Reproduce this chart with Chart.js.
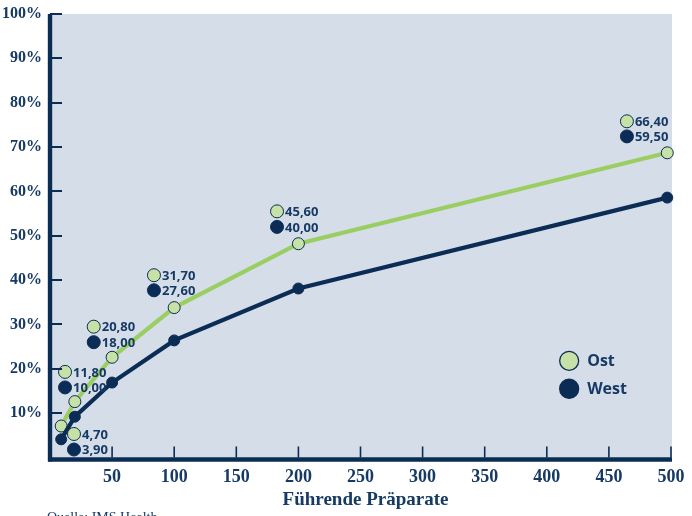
<!DOCTYPE html>
<html>
<head>
<meta charset="utf-8">
<script src="https://cdn.jsdelivr.net/npm/chart.js@4.4.1/dist/chart.umd.min.js"></script>
<style>
  html, body { margin: 0; padding: 0; background: #ffffff; }
  #wrap { width: 692px; height: 516px; position: relative; }
</style>
</head>
<body>
<div id="wrap"><canvas id="chart" width="692" height="516"></canvas></div>
<script>
// Number of leading products (x) and cumulative market share in percent (y)
const ranks = [9, 20, 50, 100, 200, 497];
const ostShare = [7.1, 12.6, 22.6, 33.8, 48.2, 68.7];
const westShare = [4.1, 9.2, 16.9, 26.4, 38.1, 58.6];

// Figures printed in the callout key
const calloutOst = [4.70, 11.80, 20.80, 31.70, 45.60, 66.40];
const calloutWest = [3.90, 10.00, 18.00, 27.60, 40.00, 59.50];

// Tick values
const xTicks = [50, 100, 150, 200, 250, 300, 350, 400, 450, 500];
const yTicks = [10, 20, 30, 40, 50, 60, 70, 80, 90, 100];

const seriesNames = ['Ost', 'West'];
const axisTitle = 'Führende Präparate';
const sourceNote = 'Quelle: IMS Health';

// Where each callout pair sits, in axis units
const calloutAnchors = {
  x: [19.3, 12.1, 35.2, 83.7, 182.8, 464.5],
  yOst: [5.3, 19.3, 29.5, 41.1, 55.5, 75.8],
  yWest: [1.8, 15.8, 26.0, 37.7, 52.0, 72.4]
};

const NAVY = '#0b2c54';
const TEXT = '#173a64';
const GREEN = '#9bce62';
const LIGHT = '#c7e2a6';
const PLOT_BG = '#d5dde9';
const SERIF = '"Liberation Serif", "DejaVu Serif", serif';
const SANS = '"Open Sans", "Noto Sans", sans-serif';

const fmt = v => v.toFixed(2).replace('.', ',');

const ostLine = ranks.map((r, i) => ({ x: r, y: ostShare[i] }));
const westLine = ranks.map((r, i) => ({ x: r, y: westShare[i] }));
const ostCallouts = calloutOst.map((v, i) => ({ x: calloutAnchors.x[i], y: calloutAnchors.yOst[i], v }));
const westCallouts = calloutWest.map((v, i) => ({ x: calloutAnchors.x[i], y: calloutAnchors.yWest[i], v }));

const frame = {
  id: 'frame',
  beforeDatasetsDraw(chart) {
    const { ctx, chartArea: a } = chart;
    ctx.save();
    ctx.fillStyle = PLOT_BG;
    ctx.fillRect(a.left, a.top, a.right - a.left + 1, a.bottom - a.top + 2);
    ctx.restore();
  },
  afterDatasetsDraw(chart) {
    const { ctx, chartArea: a, scales } = chart;
    const xs = scales.x, ys = scales.y;
    ctx.save();
    // inward tick marks
    ctx.strokeStyle = NAVY;
    ctx.lineWidth = 2;
    yTicks.forEach(t => {
      const py = Math.round(ys.getPixelForValue(t));
      ctx.beginPath(); ctx.moveTo(a.left, py); ctx.lineTo(a.left + 12, py); ctx.stroke();
    });
    ctx.lineWidth = 1.6;
    xTicks.forEach(t => {
      const px = xs.getPixelForValue(t);
      ctx.beginPath(); ctx.moveTo(px, a.bottom); ctx.lineTo(px, a.bottom - 11); ctx.stroke();
    });
    // axis lines
    ctx.lineWidth = 4.4;
    ctx.beginPath(); ctx.moveTo(a.left, a.top); ctx.lineTo(a.left, a.bottom + 4); ctx.stroke();
    ctx.beginPath(); ctx.moveTo(a.left - 2, a.bottom + 2); ctx.lineTo(a.right + 1, a.bottom + 2); ctx.stroke();

    // callout figures
    ctx.fillStyle = TEXT;
    ctx.font = '700 13px ' + SANS;
    ctx.textAlign = 'left';
    ctx.textBaseline = 'middle';
    [ostCallouts, westCallouts].forEach(list => {
      list.forEach(p => {
        ctx.fillText(fmt(p.v), xs.getPixelForValue(p.x) + 8, ys.getPixelForValue(p.y) + 1);
      });
    });

    // series key
    const kx = xs.getPixelForValue(418);
    const keyRows = [
      { y: ys.getPixelForValue(21.8), fill: LIGHT, name: seriesNames[0] },
      { y: ys.getPixelForValue(15.5), fill: NAVY, name: seriesNames[1] }
    ];
    keyRows.forEach(r => {
      ctx.beginPath();
      ctx.arc(kx, r.y, 9.5, 0, Math.PI * 2);
      ctx.fillStyle = r.fill; ctx.fill();
      ctx.lineWidth = 1.3; ctx.strokeStyle = NAVY; ctx.stroke();
      ctx.fillStyle = TEXT;
      ctx.font = '700 16px ' + SANS;
      ctx.fillText(r.name, kx + 18, r.y + 1);
    });

    // axis title and source
    ctx.textAlign = 'center';
    ctx.textBaseline = 'alphabetic';
    ctx.font = 'bold 19px ' + SERIF;
    ctx.fillText(axisTitle, (a.left + a.right) / 2 + 5, 505);
    ctx.textAlign = 'left';
    ctx.font = '14px ' + SERIF;
    ctx.fillText(sourceNote, 47, 522);
    ctx.restore();
  }
};

new Chart(document.getElementById('chart'), {
  type: 'scatter',
  data: {
    datasets: [
      {
        label: seriesNames[0], data: ostLine, showLine: true,
        borderColor: GREEN, borderWidth: 4.2,
        pointRadius: 6, pointBackgroundColor: LIGHT, pointBorderColor: NAVY, pointBorderWidth: 1,
        clip: false, order: 2
      },
      {
        label: seriesNames[1], data: westLine, showLine: true,
        borderColor: NAVY, borderWidth: 4.2,
        pointRadius: 5.5, pointBackgroundColor: NAVY, pointBorderColor: NAVY, pointBorderWidth: 1,
        clip: false, order: 1
      },
      {
        label: 'key-ost', data: ostCallouts, showLine: false,
        pointRadius: 6.5, pointBackgroundColor: LIGHT, pointBorderColor: NAVY, pointBorderWidth: 1,
        clip: false
      },
      {
        label: 'key-west', data: westCallouts, showLine: false,
        pointRadius: 6.5, pointBackgroundColor: NAVY, pointBorderColor: NAVY, pointBorderWidth: 1,
        clip: false
      }
    ]
  },
  plugins: [frame],
  options: {
    responsive: false,
    animation: false,
    layout: { autoPadding: false, padding: { top: 14, right: 21, left: 0, bottom: 0 } },
    plugins: { legend: { display: false }, tooltip: { enabled: false } },
    scales: {
      x: {
        type: 'linear', min: 0, max: 500,
        afterFit(s) { s.height = 58.5; s.paddingLeft = 0; s.paddingRight = 0; },
        afterBuildTicks(s) { s.ticks = xTicks.map(v => ({ value: v })); },
        grid: { display: false, drawTicks: false },
        border: { display: false },
        ticks: { color: TEXT, font: { family: SERIF, size: 18, weight: 'bold' }, padding: 9, maxRotation: 0 }
      },
      y: {
        type: 'linear', min: 0, max: 100,
        afterFit(s) { s.width = 50; s.paddingTop = 0; s.paddingBottom = 0; },
        afterBuildTicks(s) { s.ticks = yTicks.map(v => ({ value: v })); },
        grid: { display: false, drawTicks: false },
        border: { display: false },
        ticks: { color: TEXT, font: { family: SERIF, size: 16, weight: 'bold' }, padding: 8, callback: v => v + '%' }
      }
    }
  }
});
</script>
</body>
</html>
